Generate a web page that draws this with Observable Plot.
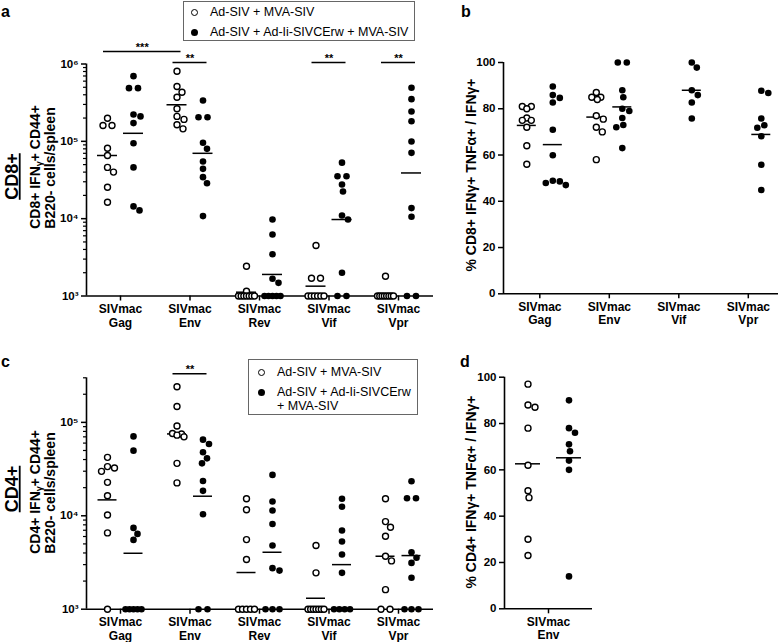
<!DOCTYPE html>
<html><head><meta charset="utf-8">
<script src="https://cdn.jsdelivr.net/npm/d3@7"></script>
<script src="https://cdn.jsdelivr.net/npm/@observablehq/plot@0.6"></script>
<style>
body{margin:0;background:#fff;}
#root{position:relative;width:784px;height:642px;overflow:hidden;font-family:"Liberation Sans",Arial,Helvetica,sans-serif;color:#000;background:#fff;}
.pane{position:absolute;}
.legend{position:absolute;border:1px solid #666;box-sizing:border-box;font-size:12.5px;background:#fff;}
.legend .row{position:absolute;white-space:nowrap;line-height:14px;}
.sw{position:absolute;width:7px;height:7px;border-radius:50%;box-sizing:border-box;}
</style></head><body><div id="root"></div>
<script>
// ---------------- data ----------------
const groupNames = ["Ad-SIV + MVA-SIV", "Ad-SIV + Ad-Ii-SIVCErw + MVA-SIV"];

// a: CD8+ IFNγ+ CD44+ B220- cells/spleen
const catsA = ["Gag", "Env", "Rev", "Vif", "Vpr"];
const cd8CountOpen = [
  [199000, 160000, 160000, 81500, 65600, 46000, 40000, 25500, 16300],
  [807000, 512000, 432000, 372000, 264000, 210000, 192000, 164000, 145000],
  [2430, 1150, 1000, 1000, 1000, 1000, 1000, 1000, 1000],
  [4500, 1700, 1700, 1000, 1000, 1000, 1000, 1000, 1000],
  [1800, 1000, 1000, 1000, 1000, 1000, 1000, 1000, 1000]
];
const cd8CountFilled = [
  [696000, 487000, 487000, 222000, 210000, 172000, 94600, 46000, 14400, 12800],
  [338000, 205000, 205000, 95700, 80000, 54800, 44100, 34400, 28700, 10800],
  [9760, 6240, 3470, 1670, 1480, 1000, 1000, 1000, 1000, 1000],
  [53000, 35400, 35400, 27700, 22500, 11000, 9750, 2000, 1000, 1000],
  [492000, 351000, 243000, 182000, 99500, 71000, 13700, 10600, 1000, 1000]
];
const cd8CountOpenLine = [65600, 297000, 1120, 1340, 1070];
const cd8CountFilledLine = [127000, 70000, 1900, 9750, 39000];

// b: % CD8+ IFNγ+ TNFα+ / IFNγ+
const catsB = ["Gag", "Env", "Vif", "Vpr"];
const cd8PctOpen = [
  [81, 81, 80, 76, 75, 75, 72, 64, 56],
  [87, 85, 85, 84, 77, 75.5, 72, 70, 58],
  [],
  []
];
const cd8PctFilled = [
  [89.6, 85.9, 84.7, 82.7, 70.9, 59.9, 48.9, 48.6, 47.9, 47],
  [100, 100, 88, 85, 80, 79, 76, 73, 72, 63],
  [100, 97.8, 88, 85.9, 82.7, 75.8],
  [87.8, 86.8, 75.8, 72.9, 71.8, 68.1, 55.8, 44.9]
];
const cd8PctOpenLine = [72.8, 76.4, null, null];
const cd8PctFilledLine = [64.5, 80.8, 88, 68.9];

// c: CD4+ IFNγ+ CD44+ B220- cells/spleen
const catsC = ["Gag", "Env", "Rev", "Vif", "Vpr"];
const cd4CountOpen = [
  [42200, 33600, 32500, 29900, 22800, 16400, 10200, 6560, 1000],
  [241000, 148000, 91500, 76000, 75000, 73000, 70000, 36400, 22500],
  [15200, 11600, 5560, 3400, 1000, 1000, 1000, 1000, 1000],
  [4800, 2450, 1000, 1000, 1000, 1000, 1000, 1000, 1000],
  [15200, 8670, 7540, 6040, 3690, 3290, 1620, 1000, 1000]
];
const cd4CountFilled = [
  [70800, 49800, 7420, 6400, 5520, 1000, 1000, 1000, 1000, 1000],
  [65300, 58700, 47800, 41200, 36400, 23600, 18500, 10400, 1000, 1000],
  [27400, 14200, 11400, 8180, 4800, 2750, 2590, 1000, 1000, 1000],
  [15200, 12500, 6950, 5300, 3850, 2450, 1000, 1000, 1000, 1000],
  [23400, 15400, 15400, 4070, 3550, 3130, 2170, 1000, 1000, 1000]
];
const cd4CountOpenLine = [14800, 75200, 2470, 1310, 3690];
const cd4CountFilledLine = [3970, 16200, 4070, 3000, 3750];

// d: % CD4+ IFNγ+ TNFα+ / IFNγ+
const catsD = ["Env"];
const cd4PctOpen = [[97, 88, 87, 78, 62, 51, 48, 30, 23]];
const cd4PctFilled = [[90, 78, 76, 71, 68, 64, 60, 14]];
const cd4PctOpenLine = [62.6];
const cd4PctFilledLine = [65.2];

// significance annotations
const sigA = [
  {a: 0, ga: "open", b: 1, gb: "open", label: "***", level: 1},
  {a: 1, ga: "open", b: 1, gb: "filled", label: "**", level: 0},
  {a: 3, ga: "open", b: 3, gb: "filled", label: "**", level: 0},
  {a: 4, ga: "open", b: 4, gb: "filled", label: "**", level: 0}
];
const sigC = [
  {a: 1, ga: "open", b: 1, gb: "filled", label: "**", level: 0}
];

// ---------------- helpers ----------------
const sup = {"3": "\u00B3", "4": "\u2074", "5": "\u2075", "6": "\u2076"};
const fmtPow = d => "10" + sup[String(Math.round(Math.log10(d)))];

function swarm(pys) {
  const n = pys.length, off = new Array(n).fill(0);
  const idx = d3.range(n).sort((a, b) => pys[a] - pys[b]);
  const clusters = [];
  for (const i of idx) {
    const last = clusters[clusters.length - 1];
    if (last && Math.abs(pys[i] - pys[last[0]]) < 0.6) last.push(i); else clusters.push([i]);
  }
  const placed = [], inTie = new Set();
  for (const c of clusters) if (c.length > 1) {
    const s = c.length === 2 ? 9 : Math.min(7, 16 / (c.length - 1));
    c.forEach((i, k) => { off[i] = (k - (c.length - 1) / 2) * s; placed.push(i); inTie.add(i); });
  }
  for (const c of clusters) if (c.length === 1) {
    const i = c[0];
    let best = 0;
    for (let t = 0; t < 60; t++) {
      const cand = t === 0 ? 0 : (t % 2 ? 1 : -1) * Math.ceil(t / 2);
      const ok = placed.every(j => Math.hypot(cand - off[j], pys[i] - pys[j]) >= (inTie.has(j) ? 3.5 : 7));
      if (ok) { best = cand; break; }
    }
    off[i] = best; placed.push(i);
  }
  return off;
}

function makePanel(cfg) {
  const {cats, open, filled, lineOpen, lineFilled, log, yDomain, yTicks, yMinor, yFormat,
         width, height, mt, mb, ml, mr, tick0Px, groupOff, lineHalf, sig, sigLevels} = cfg;
  const ppu = 69.5;
  const lo = -tick0Px / ppu, hi = lo + (width - ml - mr) / ppu;
  const yS = (log ? d3.scaleLog() : d3.scaleLinear()).domain(yDomain).range([height - mb, mt]);
  const pts = [], lines = [];
  cats.forEach((c, i) => {
    [["open", open[i], lineOpen[i], -groupOff], ["filled", filled[i], lineFilled[i], groupOff]].forEach(([g, vals, lv, go]) => {
      if (!vals || !vals.length) return;
      const offs = swarm(vals.map(v => yS(v)));
      vals.forEach((v, k) => pts.push({g, y: v, x: i + (go + offs[k]) / ppu}));
      if (lv != null) lines.push({x1: i + (go - lineHalf) / ppu, x2: i + (go + lineHalf) / ppu, y: lv});
    });
  });
  const gs = g => g === "open" ? -groupOff : groupOff;
  const sigRows = (sig || []).map(s => ({
    x1: s.a + (gs(s.ga) - 4) / ppu,
    x2: s.b + (gs(s.gb) + 4) / ppu,
    xm: (s.a + (gs(s.ga) - 4) / ppu + s.b + (gs(s.gb) + 4) / ppu) / 2,
    y: yS.invert(mt + sigLevels[s.level]),
    label: s.label
  }));
  const marks = [
    Plot.axisY({ticks: yTicks, tickFormat: yFormat, tickSize: 5, tickPadding: 3, fontSize: 11.5, fontWeight: "bold", strokeWidth: 1.5, label: null}),
    Plot.axisX({ticks: d3.range(cats.length), tickFormat: i => "SIVmac\n" + cats[i], tickSize: 5, tickPadding: 2, fontSize: 12, fontWeight: "bold", lineHeight: 1.15, strokeWidth: 1.5, label: null}),
    Plot.ruleX([lo], {stroke: "black", strokeWidth: 1.6}),
    Plot.ruleY([yDomain[0]], {stroke: "black", strokeWidth: 1.6}),
    Plot.ruleY(lines, {x1: "x1", x2: "x2", y: "y", stroke: "black", strokeWidth: 1.5}),
    Plot.dot(pts.filter(d => d.g === "open"), {x: "x", y: "y", r: 3, fill: "white", stroke: "black", strokeWidth: 1.4}),
    Plot.dot(pts.filter(d => d.g === "filled"), {x: "x", y: "y", r: 3.3, fill: "black", stroke: "none"}),
    Plot.ruleY(sigRows, {x1: "x1", x2: "x2", y: "y", stroke: "black", strokeWidth: 1.4}),
    Plot.text(sigRows, {x: "xm", y: "y", text: "label", dy: -1, lineAnchor: "bottom", fontSize: 11, fontWeight: "bold"})
  ];
  if (yMinor) marks.splice(1, 0, Plot.axisY({ticks: yMinor, tickFormat: () => "", tickSize: 3, strokeWidth: 1.2, label: null}));
  return Plot.plot({
    width, height, marginTop: mt, marginBottom: mb, marginLeft: ml, marginRight: mr,
    x: {type: "linear", domain: [lo, hi]},
    y: log ? {type: "log", domain: yDomain} : {type: "linear", domain: yDomain},
    style: {fontFamily: "'Liberation Sans', Arial, sans-serif", color: "black", background: "transparent", overflow: "visible"},
    marks
  });
}

const minorLog = (fromExp, toExp, extra) => {
  const out = [];
  for (let e = fromExp; e < toExp; e++) for (let k = 2; k <= 9; k++) out.push(k * Math.pow(10, e));
  return out.concat(extra || []);
};

// ---------------- layout ----------------
const root = document.getElementById("root");
function place(node, left, top) {
  const d = document.createElement("div");
  d.className = "pane"; d.style.left = left + "px"; d.style.top = top + "px";
  d.appendChild(node); root.appendChild(d);
}
function html(str) { const t = document.createElement("template"); t.innerHTML = str.trim(); return t.content.firstChild; }

place(makePanel({
  cats: catsA, open: cd8CountOpen, filled: cd8CountFilled, lineOpen: cd8CountOpenLine, lineFilled: cd8CountFilledLine,
  log: true, yDomain: [1000, 1e6], yTicks: [1e3, 1e4, 1e5, 1e6], yMinor: minorLog(3, 6), yFormat: fmtPow,
  width: 440, height: 330, mt: 63.5, mb: 34.5, ml: 86, mr: 7, tick0Px: 34, groupOff: 13, lineHalf: 10,
  sig: sigA, sigLevels: [-1.5, -12.5]
}), 0, 0);

place(makePanel({
  cats: catsB, open: cd8PctOpen, filled: cd8PctFilled, lineOpen: cd8PctOpenLine, lineFilled: cd8PctFilledLine,
  log: false, yDomain: [0, 100], yTicks: [0, 20, 40, 60, 80, 100], yMinor: null, yFormat: d => String(d),
  width: 324, height: 330, mt: 62, mb: 36.7, ml: 43, mr: 6, tick0Px: 36.3, groupOff: 13, lineHalf: 9.5
}), 460, 0);

place(makePanel({
  cats: catsC, open: cd4CountOpen, filled: cd4CountFilled, lineOpen: cd4CountOpenLine, lineFilled: cd4CountFilledLine,
  log: true, yDomain: [1000, 3e5], yTicks: [1e3, 1e4, 1e5], yMinor: minorLog(3, 5, [2e5, 3e5]), yFormat: fmtPow,
  width: 440, height: 322, mt: 57.3, mb: 33.3, ml: 86, mr: 7, tick0Px: 34, groupOff: 13, lineHalf: 9.5,
  sig: sigC, sigLevels: [-4]
}), 0, 320);

place(makePanel({
  cats: catsD, open: cd4PctOpen, filled: cd4PctFilled, lineOpen: cd4PctOpenLine, lineFilled: cd4PctFilledLine,
  log: false, yDomain: [0, 100], yTicks: [0, 20, 40, 60, 80, 100], yMinor: null, yFormat: d => String(d),
  width: 140, height: 322, mt: 56.7, mb: 33.7, ml: 44, mr: 8, tick0Px: 44, groupOff: 20.5, lineHalf: 12.5
}), 460, 320);

// ---------------- text overlay (titles, panel letters) ----------------
const ov = d3.create("svg").attr("width", 784).attr("height", 642)
  .style("position", "absolute").style("left", "0px").style("top", "0px").style("pointer-events", "none")
  .style("font-family", "'Liberation Sans', Arial, sans-serif").attr("font-weight", "bold");

[["a", 1, 17], ["b", 461, 17], ["c", 1, 367], ["d", 460, 367]].forEach(([t, x, y]) =>
  ov.append("text").attr("x", x).attr("y", y).attr("font-size", 16).text(t));

// rotated title; a part given as {sub: "γ"} is drawn as a small subscript
function vtext(cx, cy, size, parts, extra) {
  const t = ov.append("text").attr("transform", `translate(${cx},${cy}) rotate(-90)`)
    .attr("text-anchor", "middle").attr("dy", "0.35em").attr("font-size", size);
  if (extra) extra(t);
  let afterSub = false;
  parts.forEach(p => {
    if (typeof p === "string") {
      const ts = t.append("tspan").text(p);
      if (afterSub) ts.attr("dy", -2.5);
      afterSub = false;
    } else {
      t.append("tspan").attr("font-size", 9).attr("dy", 2.5).text(p.sub);
      afterSub = true;
    }
  });
  return t;
}
const underline = t => t.style("text-decoration", "underline");

vtext(11.5, 176.5, 18, ["CD8+"], underline);
vtext(35, 167, 14, ["CD8+ IFN", {sub: "\u03B3"}, "+ CD44+"]);
vtext(50, 168, 14, ["B220- cells/spleen"]);
vtext(11.5, 489, 18, ["CD4+"], underline);
vtext(35, 492, 14, ["CD4+ IFN", {sub: "\u03B3"}, "+ CD44+"]);
vtext(50, 493, 14, ["B220- cells/spleen"]);
vtext(471.5, 175, 14, ["% CD8+ IFN\u03B3+ TNF\u03B1+ / IFN\u03B3+"]);
vtext(471.5, 492, 14, ["% CD4+ IFN\u03B3+ TNF\u03B1+ / IFN\u03B3+"]);
root.appendChild(ov.node());

// ---------------- legends ----------------
const swOpen = (x, y) => `<div class="sw" style="left:${x - 3.5}px;top:${y - 3.5}px;border:1.5px solid #000;background:#fff"></div>`;
const swFilled = (x, y) => `<div class="sw" style="left:${x - 3.5}px;top:${y - 3.5}px;background:#000"></div>`;
root.appendChild(html(`<div class="legend" style="left:183px;top:1px;width:232px;height:40px">
  ${swOpen(10, 10)}<div class="row" style="left:26px;top:3px">${groupNames[0]}</div>
  ${swFilled(10, 30)}<div class="row" style="left:26px;top:23px">${groupNames[1]}</div>
</div>`));
root.appendChild(html(`<div class="legend" style="left:248px;top:359px;width:170px;height:56px">
  ${swOpen(12, 12)}<div class="row" style="left:28px;top:5px">${groupNames[0]}</div>
  ${swFilled(12, 32)}<div class="row" style="left:28px;top:25px">Ad-SIV + Ad-Ii-SIVCErw<br>+ MVA-SIV</div>
</div>`));
</script>
</body></html>
